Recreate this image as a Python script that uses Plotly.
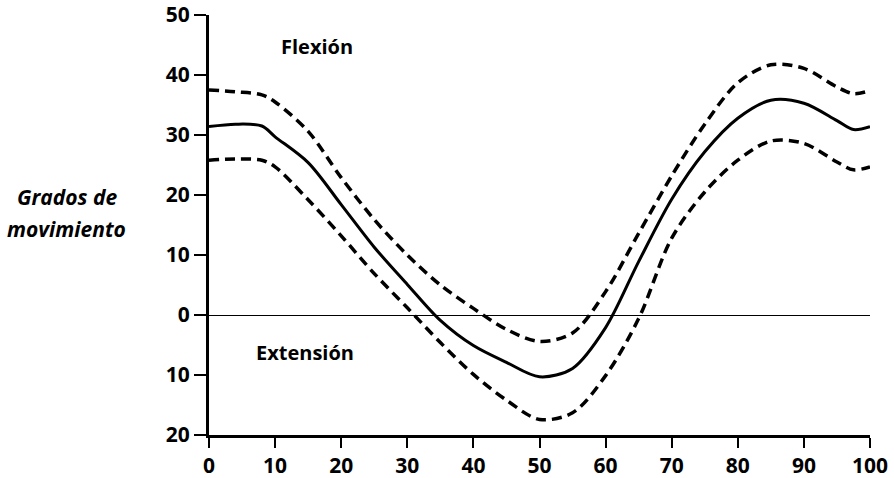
import plotly.graph_objects as go

x_vals = [0, 4, 8, 10, 15, 20, 25, 30, 35, 40, 45, 50, 55, 60, 65, 70, 75, 80, 85, 90, 95, 97.5, 100]

# Mean curve (solid)
mean_y = [31.4, 31.8, 31.5, 29.7, 25.4, 18.4, 11.3, 5.1, -0.9, -5.1, -7.9, -10.3, -8.9, -2.1, 8.9, 19.3, 27.2, 32.8, 35.8, 35.3, 32.4, 30.9, 31.4]
# Upper band (dashed)
upper_y = [37.5, 37.2, 36.7, 35.5, 30.6, 22.9, 15.9, 10.0, 5.0, 1.1, -2.4, -4.4, -3.0, 3.9, 13.6, 23.2, 31.8, 38.7, 41.7, 41.1, 38.0, 36.9, 37.4]
# Lower band (dashed)
lower_y = [25.8, 26.0, 25.8, 24.7, 19.2, 13.2, 6.9, 1.2, -4.6, -9.9, -14.2, -17.4, -16.3, -10.1, -0.6, 12.8, 20.5, 25.8, 29.0, 28.6, 25.5, 24.2, 24.7]

x_ticks = [0, 10, 20, 30, 40, 50, 60, 70, 80, 90, 100]
y_ticks = [50, 40, 30, 20, 10, 0, -10, -20]
y_tick_labels = ["50", "40", "30", "20", "10", "0", "10", "20"]

FONT = "Open Sans"

fig = go.Figure()
dash_line = dict(color="black", width=3.5, dash="10px,6px", shape="spline", smoothing=0.9)
fig.add_trace(go.Scatter(x=x_vals, y=upper_y, mode="lines", line=dash_line, hoverinfo="skip"))
fig.add_trace(go.Scatter(x=x_vals, y=lower_y, mode="lines", line=dash_line, hoverinfo="skip"))
fig.add_trace(go.Scatter(x=x_vals, y=mean_y, mode="lines",
                         line=dict(color="black", width=3, shape="spline", smoothing=0.9), hoverinfo="skip"))

fig.update_layout(
    width=894, height=478,
    margin=dict(l=209, r=24, t=15, b=43),
    plot_bgcolor="white", paper_bgcolor="white",
    showlegend=False,
    font=dict(family=FONT, color="black"),
)
fig.update_xaxes(
    range=[0, 100], tickvals=x_ticks, ticktext=[str(v) for v in x_ticks],
    showgrid=False, zeroline=False, automargin=False,
    showline=True, linecolor="black", linewidth=3,
    ticks="outside", ticklen=10, tickwidth=2, tickcolor="black",
    tickfont=dict(family=FONT, size=21, weight="bold", color="black"),
)
fig.update_yaxes(
    range=[-20, 50], tickvals=y_ticks, ticktext=y_tick_labels,
    showgrid=False, zeroline=True, zerolinecolor="black", zerolinewidth=1,
    showline=True, linecolor="black", linewidth=3, automargin=False,
    ticks="outside", ticklen=12, tickwidth=2, tickcolor="black",
    tickfont=dict(family=FONT, size=21, weight="bold", color="black"),
)

fig.add_annotation(x=16.3, y=44.8, text="Flexión", showarrow=False,
                   font=dict(family=FONT, size=20, weight="bold", color="black"))
fig.add_annotation(x=14.5, y=-6.2, text="Extensión", showarrow=False,
                   font=dict(family=FONT, size=20, weight="bold", color="black"))
fig.add_annotation(xref="paper", yref="paper", x=-0.215, y=0.567, xanchor="center", yanchor="middle",
                   text="<i>Grados de</i>", showarrow=False,
                   font=dict(family=FONT, size=21, weight="bold", color="black"))
fig.add_annotation(xref="paper", yref="paper", x=-0.215, y=0.490, xanchor="center", yanchor="middle",
                   text="<i>movimiento</i>", showarrow=False,
                   font=dict(family=FONT, size=21, weight="bold", color="black"))

fig.write_html("out.html")
